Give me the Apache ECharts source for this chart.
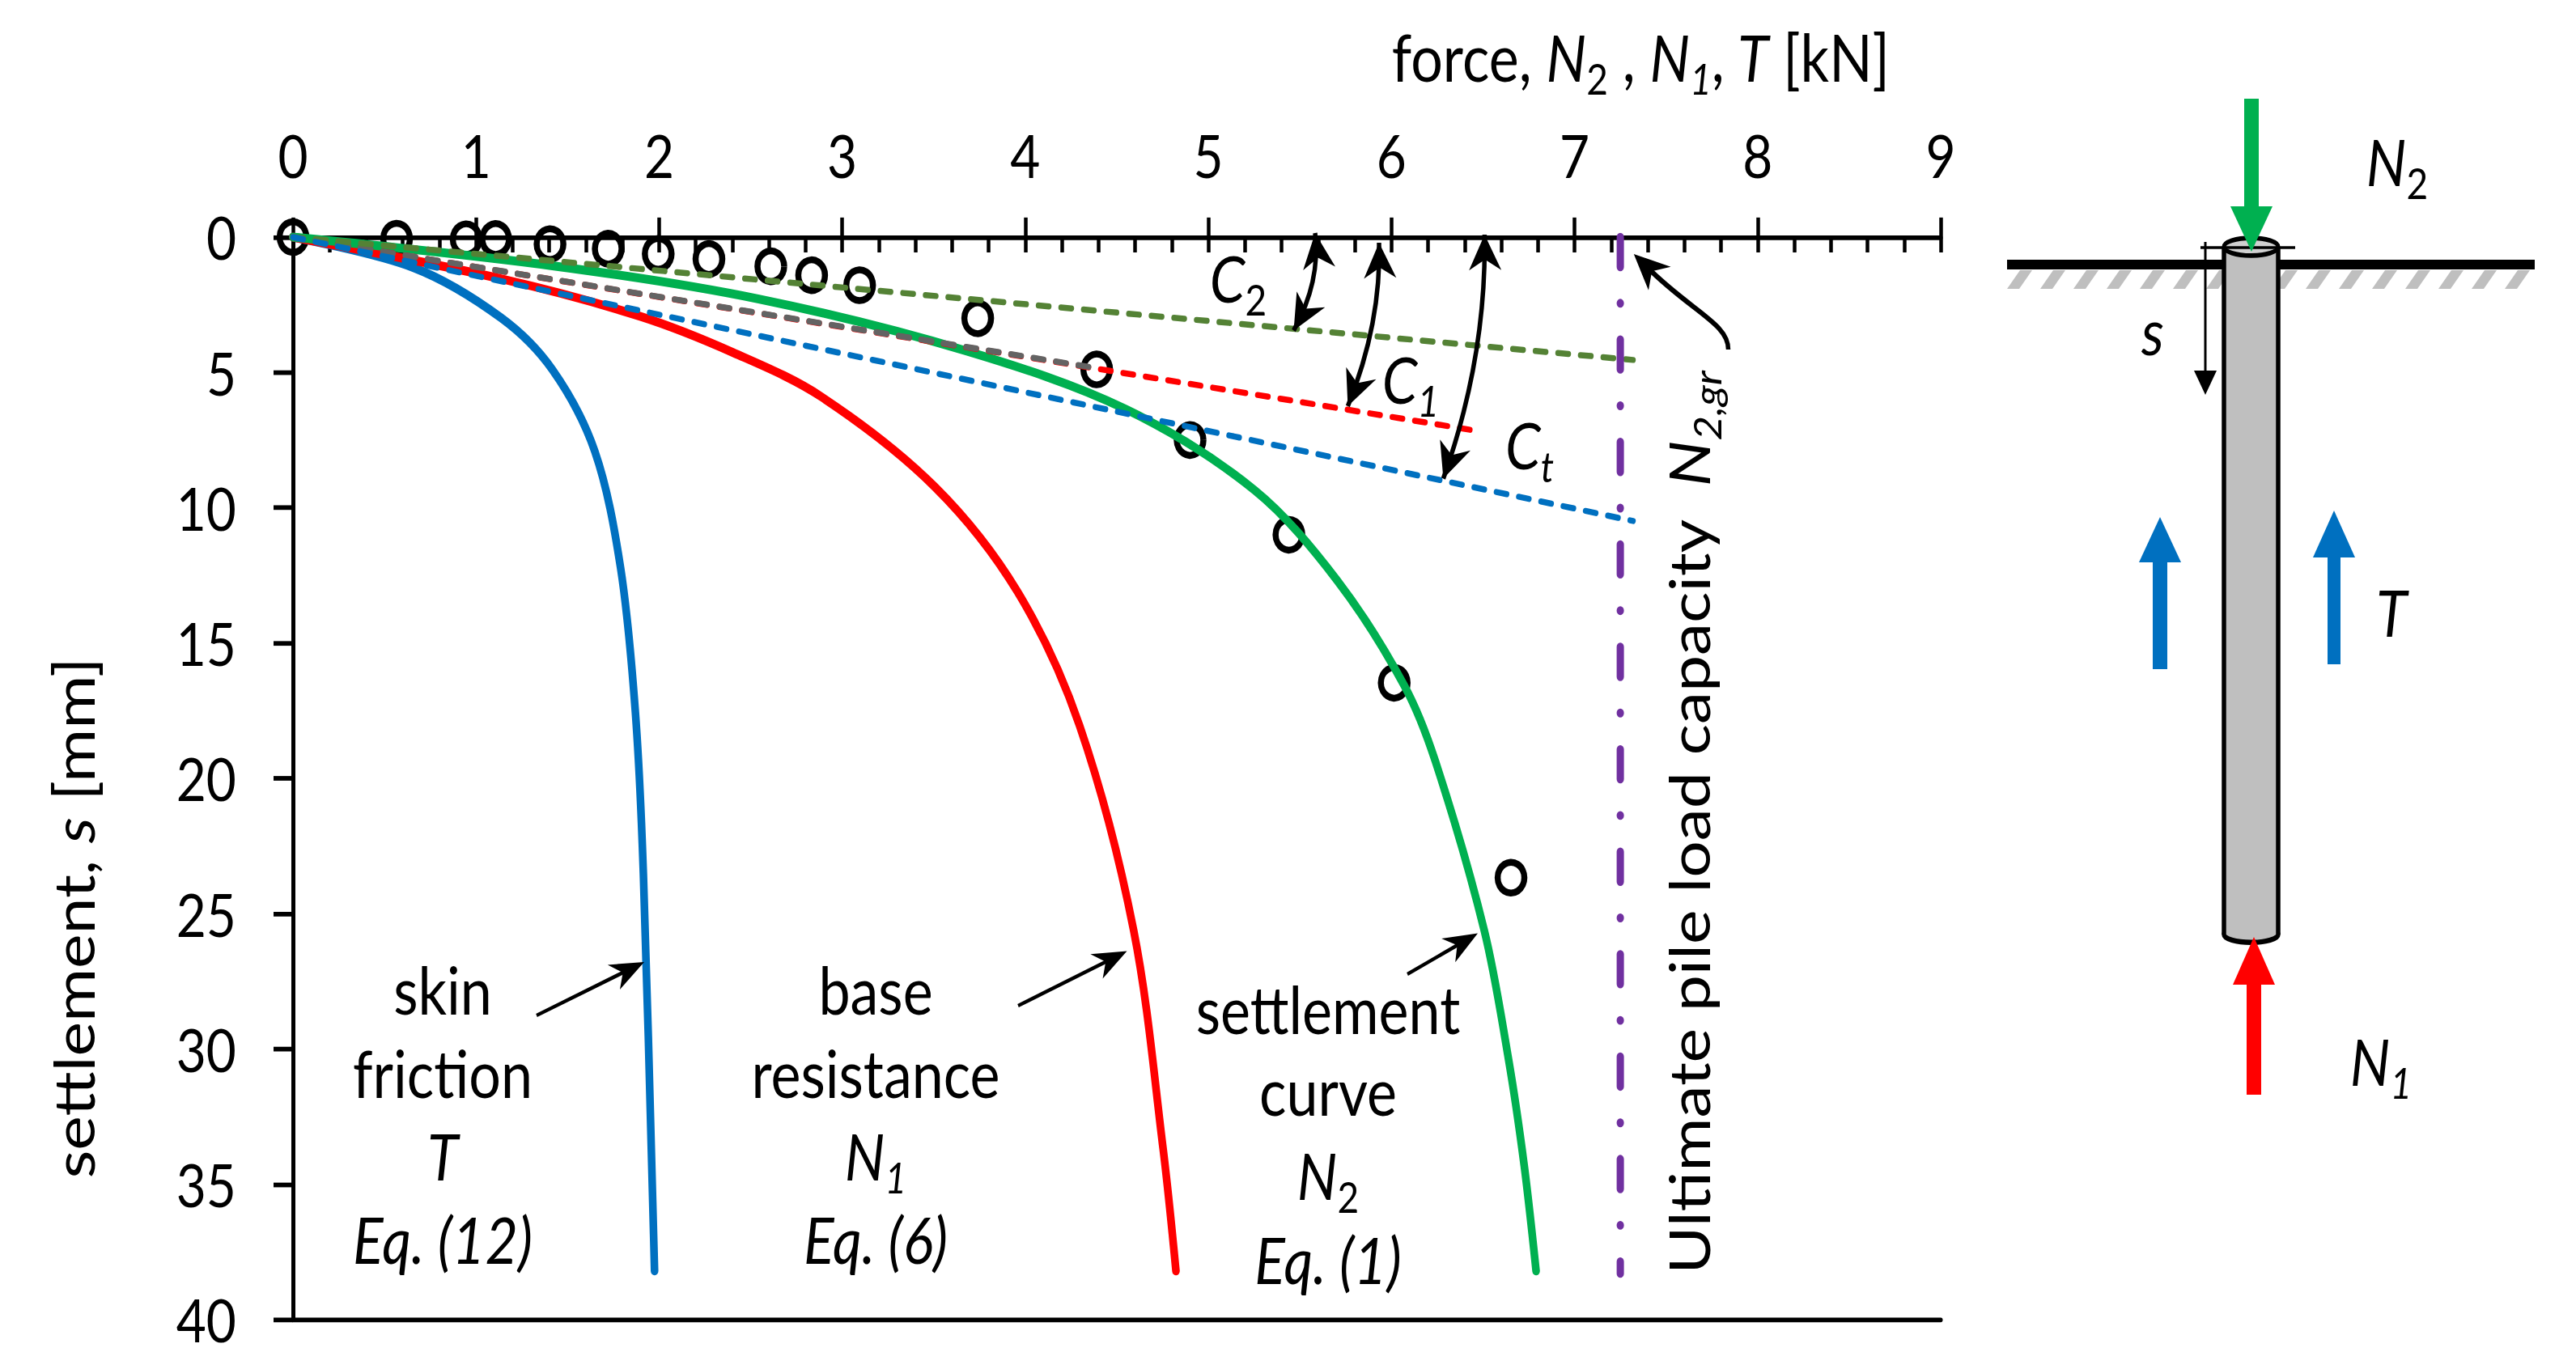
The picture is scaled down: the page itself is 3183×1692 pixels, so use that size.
<!DOCTYPE html>
<html>
<head>
<meta charset="utf-8">
<title>pile settlement</title>
<script src="https://cdn.jsdelivr.net/npm/echarts@6/dist/echarts.min.js"></script>
<style>
html, body { margin: 0; padding: 0; background: #fff; width: 3183px; height: 1692px; }
#wrap { width: 3183px; height: 1692px; overflow: hidden; }
/* the source figure is stretched a little in height, text and circles too */
#chart { width: 3183px; height: 1471.3px; transform: scaleY(1.15); transform-origin: 0 0; }
</style>
</head>
<body>
<div id="wrap"><div id="chart"></div></div>
<script>
let xTicks = [0, 9, 1];
let yTicks = [0, 40, 5];

let frictionForce = [0, 0.656, 1.136, 1.417, 1.649, 1.789, 1.87, 1.914, 1.975];
let frictionSettle = [0, 1.12, 2.98, 4.9, 7.92, 12.2, 17.53, 23.53, 38.2];

let baseForce = [0, 1.136, 1.897, 2.405, 2.886, 3.506, 3.957, 4.296, 4.592, 4.753, 4.823];
let baseSettle = [0, 1.54, 2.93, 4.27, 5.9, 9.23, 13.1, 18.04, 25.62, 33.7, 38.2];

let curveForce = [0, 1.417, 2.545, 3.674, 4.549, 5.254, 5.705, 6.07, 6.24, 6.507, 6.64, 6.725, 6.79];
let curveSettle = [0, 1.06, 2.29, 4.2, 6.36, 9.36, 12.7, 16.57, 19.37, 25.62, 30.4, 34.3, 38.2];

let testForce = [0, 0.566, 0.946, 1.107, 1.404, 1.722, 1.995, 2.272, 2.61, 2.833, 3.095, 3.74, 4.39, 4.9, 5.44, 6.015, 6.653];
let testSettle = [0, 0.06, 0.08, 0.07, 0.26, 0.43, 0.62, 0.81, 1.08, 1.41, 1.78, 3, 4.89, 7.5, 11, 16.47, 23.67];

let c2Line = [[0, 0], [7.32, 4.54]];
let c1Line = [[0, 0], [6.43, 7.12]];
let c1Grey = [[0, 0], [4.35, 4.8]];
let ctLine = [[0, 0], [7.32, 10.49]];
let capacityLine = [[7.25, 0], [7.25, 38.3]];

let chartLabels = [
    [547, ['{r|skin}', '{r|friction}', '{i|T}', '{i|Eq. (12)}'], [1252, 1355, 1457, 1560]],
    [1082, ['{r|base}', '{r|resistance}', '{i|N}{si|1}', '{i|Eq. (6)}'], [1252, 1355, 1457, 1560]],
    [1641, ['{r|settlement}', '{r|curve}', '{i|N}{s|2}', '{i|Eq. (1)}'], [1276, 1377, 1481, 1585]]
];

const K = 1.15;
const FONT = 'Lato';

function rich () {
    return {
        r: { fontFamily: FONT, fontSize: 70, lineHeight: 92, color: '#000' },
        i: { fontFamily: FONT, fontSize: 70, lineHeight: 92, fontStyle: 'italic', color: '#000' },
        s: { fontFamily: FONT, fontSize: 46, lineHeight: 62, verticalAlign: 'bottom', color: '#000' },
        si: { fontFamily: FONT, fontSize: 46, lineHeight: 62, verticalAlign: 'bottom', fontStyle: 'italic', color: '#000' }
    };
}

function text (x, baseline, str, rotation) {
    return {
        type: 'text', x: x, y: baseline / K - 25, rotation: rotation || 0, silent: true, z: 20,
        style: { text: str, rich: rich(), align: 'center', verticalAlign: 'middle' }
    };
}

function pts (list) {
    return list.map(p => [p[0], p[1] / K]);
}

function poly (list, color) {
    return { type: 'polygon', shape: { points: pts(list) }, style: { fill: color }, silent: true, z: 10 };
}

function line (x1, y1, x2, y2, width, color) {
    return {
        type: 'line', shape: { x1: x1, y1: y1 / K, x2: x2, y2: y2 / K }, silent: true, z: 10,
        style: { stroke: color || '#000', lineWidth: width }
    };
}

// stealth arrow head pointing at tip, coming from the "from" point
function head (tip, from, len, half) {
    let dx = tip[0] - from[0], dy = tip[1] - from[1];
    let d = Math.sqrt(dx * dx + dy * dy);
    let ux = dx / d, uy = dy / d;
    return poly([
        tip,
        [tip[0] - ux * len - uy * half, tip[1] - uy * len + ux * half],
        [tip[0] - ux * len * 0.7, tip[1] - uy * len * 0.7],
        [tip[0] - ux * len + uy * half, tip[1] - uy * len - ux * half]
    ], '#000');
}

function doubleArrow (a, c, b) {
    return [
        {
            type: 'bezierCurve', silent: true, z: 10,
            shape: { x1: a[0], y1: a[1] / K, x2: b[0], y2: b[1] / K, cpx1: c[0], cpy1: c[1] / K },
            style: { stroke: '#000', lineWidth: 5.5, fill: 'none' }
        },
        head(a, c, 44, 20),
        head(b, c, 44, 20)
    ];
}

function pointer (tail, tip) {
    return [line(tail[0], tail[1], tip[0] - (tip[0] - tail[0]) * 0.1, tip[1] - (tip[1] - tail[1]) * 0.1, 4), head(tip, tail, 42, 17)];
}

function blockArrow (x, half, tipY, baseY, endY, shaftHalf, color) {
    return [
        poly([[x, tipY], [x - half, baseY], [x + half, baseY]], color),
        poly([[x - shaftHalf, baseY], [x + shaftHalf, baseY], [x + shaftHalf, endY], [x - shaftHalf, endY]], color)
    ];
}

function pileElements () {
    let els = [];
    for (let i = 0; i < 16; i++) {
        let x0 = 2480 + 41 * i;
        els.push(poly([[x0, 357], [x0 + 15, 357], [x0 + 31, 334], [x0 + 16, 334]], '#BFBFBF'));
    }
    els.push(line(2480, 327, 3132, 327, 10.4));
    els.push({
        type: 'ellipse', silent: true, z: 10,
        shape: { cx: 2781.5, cy: 1155 / K, rx: 33.5, ry: 8.5 },
        style: { fill: '#BFBFBF', stroke: '#000', lineWidth: 5.5 }
    });
    els.push({
        type: 'rect', silent: true, z: 10,
        shape: { x: 2748, y: 305 / K, width: 67, height: 850 / K },
        style: { fill: '#BFBFBF' }
    });
    els.push(line(2748, 305, 2748, 1155, 5.5));
    els.push(line(2815, 305, 2815, 1155, 5.5));
    els.push({
        type: 'ellipse', silent: true, z: 10,
        shape: { cx: 2781.5, cy: 305 / K, rx: 33.5, ry: 9.5 },
        style: { fill: '#D0D0D0', stroke: '#000', lineWidth: 5 }
    });
    els.push(line(2719, 306, 2836, 306, 3));
    els.push(line(2725, 299, 2725, 460, 3));
    els.push(poly([[2725, 488], [2711, 458], [2739, 458]], '#000'));
    els = els.concat(
        blockArrow(2782, 26, 311, 255, 122, 9, '#00B050'),
        blockArrow(2785, 26, 1158, 1217, 1353, 9, '#FF0000'),
        blockArrow(2669, 26, 639, 695, 827, 9, '#0070C0'),
        blockArrow(2884, 26, 631, 689, 821, 8, '#0070C0')
    );
    els.push(text(2962, 228, '{i|N}{s|2}'));
    els.push(text(2955, 785, '{i|T}'));
    els.push(text(2942, 1340, '{i|N}{si|1}'));
    els.push(text(2660, 437, '{i|s}'));
    return els;
}

function chartElements () {
    let els = [];
    chartLabels.forEach(l => {
        l[1].forEach((str, i) => els.push(text(l[0], l[2][i], str)));
    });
    els.push(text(1530, 372, '{i|C}{s|2}'));
    els.push(text(1743, 497, '{i|C}{si|1}'));
    els.push(text(1890, 578, '{i|C}{si|t}'));
    els.push({
        type: 'text', x: 2086, y: 1017 / K, rotation: Math.PI / 2, silent: true, z: 20,
        style: { text: '{r|Ultimate pile load capacity  }{i|N}{si|2,gr}', rich: rich(), align: 'center', verticalAlign: 'middle' }
    });
    els = els.concat(
        doubleArrow([1625, 288], [1632, 348], [1598.5, 408.5]),
        doubleArrow([1704, 300], [1707, 399], [1665.4, 502]),
        doubleArrow([1834.4, 290], [1837, 441], [1783.4, 591.5]),
        pointer([663, 1255], [796, 1189]),
        pointer([1258, 1243], [1392.5, 1175.6]),
        pointer([1739, 1204], [1826, 1153.6])
    );
    els.push({
        type: 'bezierCurve', silent: true, z: 10,
        shape: { x1: 2135.5, y1: 432 / K, x2: 2035, y2: 330 / K, cpx1: 2136, cpy1: 400 / K, cpx2: 2090, cpy2: 385 / K },
        style: { stroke: '#000', lineWidth: 5.5, fill: 'none' }
    });
    els.push(head([2018.8, 314], [2080, 372], 44, 20));
    return els;
}

function zip (xs, ys) {
    return xs.map((x, i) => [x, ys[i]]);
}

function solid (name, data, color) {
    return {
        name: name, type: 'line', data: data, symbol: 'none', smooth: 0.33, silent: true,
        lineStyle: { color: color, width: 9.5, cap: 'round', join: 'round' }
    };
}

function dashed (name, data, color) {
    return {
        name: name, type: 'line', data: data, symbol: 'none', silent: true,
        lineStyle: { color: color, width: 6.5, type: [13, 15], cap: 'round' }
    };
}

let xBase = {
    type: 'value', min: xTicks[0], max: xTicks[1], interval: xTicks[2],
    splitLine: { show: false }
};
let axisLineStyle = { show: true, onZero: false, lineStyle: { color: '#000', width: 5 } };

let chart = echarts.init(document.getElementById('chart'), null, { renderer: 'svg' });
chart.setOption({
    animation: false,
    backgroundColor: '#fff',
    textStyle: { fontFamily: FONT },
    grid: { left: 362, top: 293 / K, width: 2036, height: 1338 / K, containLabel: false },
    xAxis: [
        Object.assign({}, xBase, {
            position: 'top',
            axisLine: axisLineStyle,
            axisTick: { show: true, length: 21, lineStyle: { color: '#000', width: 4.5 } },
            axisLabel: { show: true, margin: 56, fontFamily: FONT, fontSize: 64, color: '#000' },
            name: '{r|force, }{i|N}{s|2}{r| , }{i|N}{si|1}{i|, T}{r| [kN]}',
            nameLocation: 'end',
            nameGap: -63,
            nameTextStyle: { rich: rich(), align: 'right', verticalAlign: 'bottom', padding: [0, 0, 148, 0] }
        }),
        Object.assign({}, xBase, {
            position: 'top',
            axisLine: { show: false, onZero: false },
            axisTick: { show: true, inside: true, length: 16.5, lineStyle: { color: '#000', width: 4.5 } },
            minorTick: { show: true, splitNumber: 5, length: 16.5, lineStyle: { color: '#000', width: 4.5 } },
            axisLabel: { show: false }
        }),
        Object.assign({}, xBase, {
            position: 'bottom',
            axisLine: axisLineStyle,
            axisTick: { show: false },
            axisLabel: { show: false }
        })
    ],
    yAxis: {
        type: 'value', min: yTicks[0], max: yTicks[1], interval: yTicks[2], inverse: true,
        position: 'left',
        axisLine: axisLineStyle,
        axisTick: { show: true, length: 24, lineStyle: { color: '#000', width: 5 } },
        axisLabel: { show: true, margin: 70, fontFamily: FONT, fontSize: 64, color: '#000' },
        splitLine: { show: false },
        name: '{r|settlement, }{i|s}{r| [mm]}',
        nameLocation: 'middle',
        nameGap: 226,
        nameRotate: 90,
        nameTextStyle: { rich: rich(), padding: [0, 300, 0, 0] }
    },
    series: [
        {
            name: 'test', type: 'scatter', data: zip(testForce, testSettle), symbol: 'circle', symbolSize: 33, silent: true,
            itemStyle: { color: 'rgba(0,0,0,0)', borderColor: '#000', borderWidth: 7.5, opacity: 1 }
        },
        solid('T', zip(frictionForce, frictionSettle), '#0070C0'),
        solid('N1', zip(baseForce, baseSettle), '#FF0000'),
        solid('N2', zip(curveForce, curveSettle), '#00B050'),
        dashed('C1', c1Line, '#FF0000'),
        dashed('C1 start', c1Grey, '#636363'),
        dashed('C2', c2Line, '#548235'),
        dashed('Ct', ctLine, '#0070C0'),
        {
            name: 'capacity', type: 'line', data: capacityLine, symbol: 'none', silent: true,
            lineStyle: { color: '#7030A0', width: 9, type: [32.2, 38.7, 0.5, 38.7], cap: 'round' }
        }
    ],
    graphic: { elements: chartElements().concat(pileElements()) }
});
</script>
</body>
</html>
